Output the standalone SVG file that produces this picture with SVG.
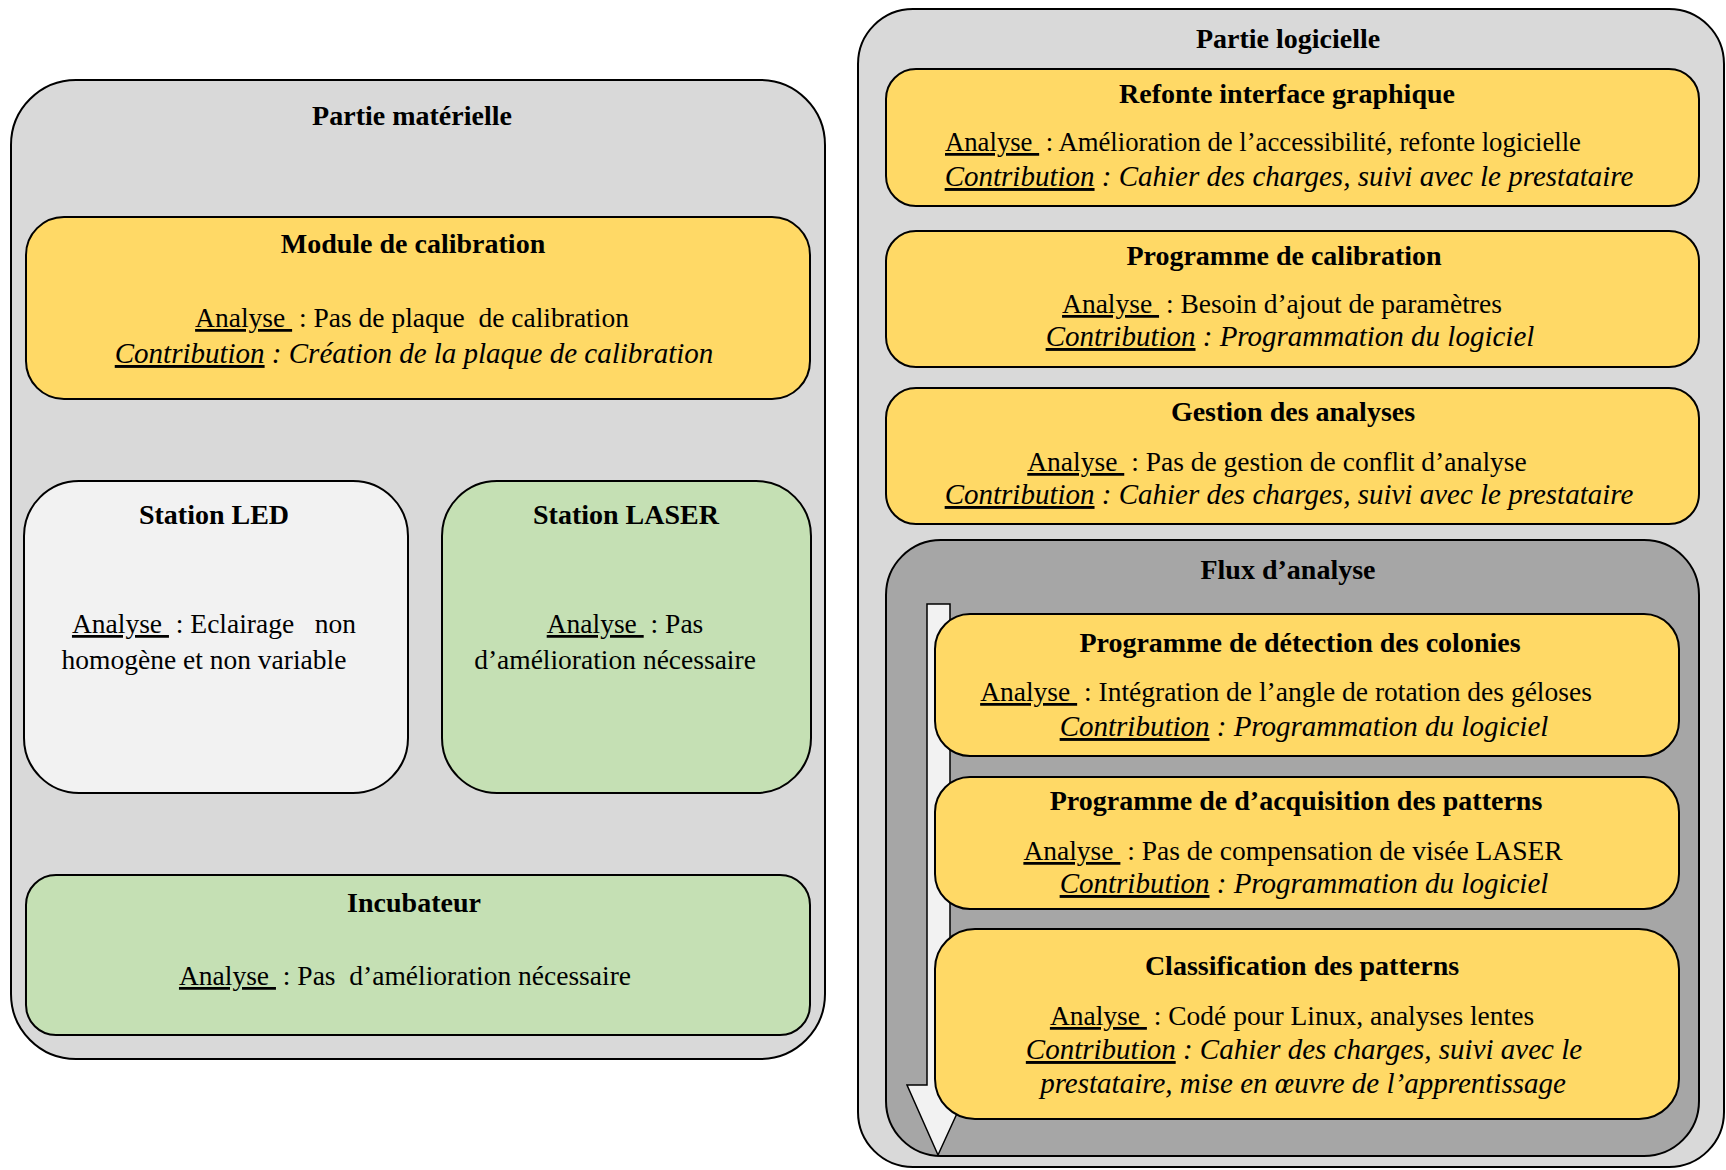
<svg xmlns="http://www.w3.org/2000/svg" width="1726" height="1170" viewBox="0 0 1726 1170">
<style>
.box{stroke:#000;stroke-width:2}
.outer{fill:#d9d9d9}
.flux{fill:#a6a6a6}
.yel{fill:#ffd966}
.grn{fill:#c5e0b4}
.wht{fill:#f2f2f2}
text{font-family:"Liberation Serif","Times New Roman",serif;font-size:27.5px;fill:#000;white-space:pre;text-anchor:middle}
.t{font-weight:bold;font-size:28px}
.i{font-style:italic;font-size:29px}
.u{text-decoration:underline}
</style>
<rect width="1726" height="1170" fill="#fff"/>
<g id="partie-materielle">
<rect class="box outer" x="11" y="80" width="814" height="979" rx="65" ry="65"/>
<text class="t" x="412" y="125">Partie matérielle</text>
</g>
<g id="partie-logicielle">
<rect class="box outer" x="858" y="9" width="866" height="1158" rx="55" ry="55"/>
<text class="t" x="1288" y="48">Partie logicielle</text>
</g>
<g id="module-calibration">
<rect class="box yel" x="26" y="217" width="784" height="182" rx="38" ry="38"/>
<text class="t" x="413" y="253">Module de calibration</text>
<text x="412" y="327"><tspan class="u">Analyse </tspan> : Pas de plaque  de calibration</text>
<text class="i" x="414" y="363"><tspan class="u">Contribution</tspan> : Création de la plaque de calibration</text>
</g>
<g id="station-led">
<rect class="box wht" x="24" y="481" width="384" height="312" rx="55" ry="55"/>
<text class="t" x="214" y="524">Station LED</text>
<text x="214" y="633"><tspan class="u">Analyse </tspan> : Eclairage   non</text>
<text x="204" y="669">homogène et non variable</text>
</g>
<g id="station-laser">
<rect class="box grn" x="442" y="481" width="369" height="312" rx="55" ry="55"/>
<text class="t" x="626" y="524">Station LASER</text>
<text x="625" y="633"><tspan class="u">Analyse </tspan> : Pas</text>
<text x="615" y="669">d’amélioration nécessaire</text>
</g>
<g id="incubateur">
<rect class="box grn" x="26" y="875" width="784" height="160" rx="30" ry="30"/>
<text class="t" x="414" y="912">Incubateur</text>
<text x="405" y="985"><tspan class="u">Analyse </tspan> : Pas  d’amélioration nécessaire</text>
</g>
<g id="refonte-interface">
<rect class="box yel" x="886" y="69" width="813" height="137" rx="30" ry="30"/>
<text class="t" x="1287" y="103">Refonte interface graphique</text>
<text x="1263" y="151" textLength="636" lengthAdjust="spacingAndGlyphs"><tspan class="u">Analyse </tspan> : Amélioration de l’accessibilité, refonte logicielle</text>
<text class="i" x="1289" y="186"><tspan class="u">Contribution</tspan> : Cahier des charges, suivi avec le prestataire</text>
</g>
<g id="programme-calibration">
<rect class="box yel" x="886" y="231" width="813" height="136" rx="30" ry="30"/>
<text class="t" x="1284" y="265">Programme de calibration</text>
<text x="1282" y="313"><tspan class="u">Analyse </tspan> : Besoin d’ajout de paramètres</text>
<text class="i" x="1290" y="346"><tspan class="u">Contribution</tspan> : Programmation du logiciel</text>
</g>
<g id="gestion-analyses">
<rect class="box yel" x="886" y="388" width="813" height="136" rx="30" ry="30"/>
<text class="t" x="1293" y="421">Gestion des analyses</text>
<text x="1277" y="471"><tspan class="u">Analyse </tspan> : Pas de gestion de conflit d’analyse</text>
<text class="i" x="1289" y="504"><tspan class="u">Contribution</tspan> : Cahier des charges, suivi avec le prestataire</text>
</g>
<g id="flux-analyse">
<rect class="box flux" x="886" y="540" width="813" height="616" rx="55" ry="55"/>
<text class="t" x="1288" y="579">Flux d’analyse</text>
</g>
<g id="connectors">
<path d="M927,604 L950,604 L950,1085 L970,1085 L938,1155 L907,1085 L927,1085 Z" fill="#f2f2f2" stroke="#000" stroke-width="1.5"/>
</g>
<g id="detection-colonies">
<rect class="box yel" x="935" y="614" width="744" height="142" rx="35" ry="35"/>
<text class="t" x="1300" y="652">Programme de détection des colonies</text>
<text x="1286" y="701"><tspan class="u">Analyse </tspan> : Intégration de l’angle de rotation des géloses</text>
<text class="i" x="1304" y="736"><tspan class="u">Contribution</tspan> : Programmation du logiciel</text>
</g>
<g id="acquisition-patterns">
<rect class="box yel" x="935" y="777" width="744" height="132" rx="35" ry="35"/>
<text class="t" x="1296" y="810">Programme de d’acquisition des patterns</text>
<text x="1293" y="860"><tspan class="u">Analyse </tspan> : Pas de compensation de visée LASER</text>
<text class="i" x="1304" y="893"><tspan class="u">Contribution</tspan> : Programmation du logiciel</text>
</g>
<g id="classification-patterns">
<rect class="box yel" x="935" y="929" width="744" height="190" rx="40" ry="40"/>
<text class="t" x="1302" y="975">Classification des patterns</text>
<text x="1292" y="1025"><tspan class="u">Analyse </tspan> : Codé pour Linux, analyses lentes</text>
<text class="i" x="1304" y="1059"><tspan class="u">Contribution</tspan> : Cahier des charges, suivi avec le</text>
<text class="i" x="1303" y="1093">prestataire, mise en œuvre de l’apprentissage</text>
</g>
</svg>
